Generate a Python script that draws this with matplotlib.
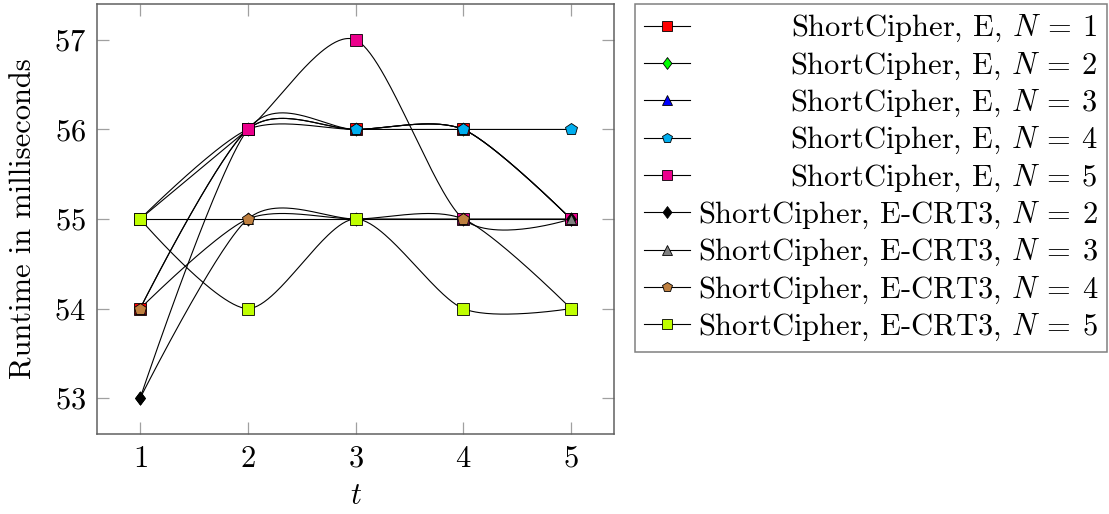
import numpy as np
import matplotlib
matplotlib.use("Agg")
import matplotlib.pyplot as plt
from matplotlib.lines import Line2D

plt.rcParams["font.family"] = "cmr10"
plt.rcParams["mathtext.fontset"] = "cm"
plt.rcParams["axes.formatter.use_mathtext"] = True

# ==============================
# DATA
# ==============================
t = [1, 2, 3, 4, 5]

e_n1 = [54, 56, 56, 56, 55]
e_n2 = [53, 56, 56, 56, 55]
e_n3 = [54, 56, 56, 56, 55]
e_n4 = [55, 56, 56, 56, 56]
e_n5 = [55, 56, 57, 55, 55]

crt_n2 = [53, 55, 55, 55, 55]
crt_n3 = [55, 55, 55, 55, 55]
crt_n4 = [54, 55, 55, 55, 54]
crt_n5 = [55, 54, 55, 54, 54]

labels = [
    r"ShortCipher, E, $N\:=\:1$",
    r"ShortCipher, E, $N\:=\:2$",
    r"ShortCipher, E, $N\:=\:3$",
    r"ShortCipher, E, $N\:=\:4$",
    r"ShortCipher, E, $N\:=\:5$",
    r"ShortCipher, E-CRT3, $N\:=\:2$",
    r"ShortCipher, E-CRT3, $N\:=\:3$",
    r"ShortCipher, E-CRT3, $N\:=\:4$",
    r"ShortCipher, E-CRT3, $N\:=\:5$",
]
series = [e_n1, e_n2, e_n3, e_n4, e_n5, crt_n2, crt_n3, crt_n4, crt_n5]

# pgf-like "diamond*" (a bit wider than matplotlib's thin diamond)
diamond = [(0, 1), (0.75, 0), (0, -1), (-0.75, 0), (0, 1)]

# marker style per series: (marker, face colour, size)
styles = [
    ("s", "#ff0000", 8.2),
    (diamond, "#00ff00", 9.5),
    ("^", "#0000ff", 7.5),
    ("p", "#00aeef", 8.7),
    ("s", "#ec008c", 8.2),
    (diamond, "#000000", 9.5),
    ("^", "#808080", 7.5),
    ("p", "#bf8040", 8.7),
    ("s", "#bfff00", 8.2),
]


def smooth(x, y, k=0.13875, n=60):
    # tikz-style "smooth": cubic bezier per segment, control points from neighbours
    p = np.column_stack([x, y]).astype(float)
    m = len(p)
    d = np.zeros_like(p)
    for i in range(1, m - 1):
        d[i] = k * (p[i + 1] - p[i - 1])
    out = []
    s = np.linspace(0, 1, n)[:, None]
    for i in range(m - 1):
        a, b = p[i], p[i + 1]
        c1, c2 = a + d[i], b - d[i + 1]
        seg = (1 - s) ** 3 * a + 3 * (1 - s) ** 2 * s * c1 + 3 * (1 - s) * s ** 2 * c2 + s ** 3 * b
        out.append(seg if i == 0 else seg[1:])
    out = np.vstack(out)
    return out[:, 0], out[:, 1]


fig = plt.figure(figsize=(11.09, 5.14), dpi=100)
ax = fig.add_axes([0.0875, 0.1556, 0.4662, 0.8366])

for i, vals in enumerate(series):
    xs, ys = smooth(t, vals)
    ax.plot(xs, ys, color="black", lw=0.8, zorder=2 + i * 0.01)

for i, vals in enumerate(series):
    mk, fc, ms = styles[i]
    ax.plot(t, vals, ls="none", marker=mk, markerfacecolor=fc,
            markeredgecolor="black", markeredgewidth=0.6, markersize=ms,
            zorder=3 + i * 0.01)

ax.set_xlim(0.6, 5.4)
ax.set_ylim(52.6, 57.4)
ax.set_xticks(t)
ax.set_yticks([53, 54, 55, 56, 57])
ax.tick_params(direction="in", length=8.5, width=0.9, color="#a0a0a0",
               top=True, right=True, labelsize=22, pad=8)
for sp in ax.spines.values():
    sp.set_color("#606060")
    sp.set_linewidth(1.1)

ax.set_xlabel(r"$t$", fontsize=22, labelpad=7)
ax.set_ylabel("Runtime in milliseconds", fontsize=22, labelpad=12)

# ==============================
# LEGEND
# ==============================
handles = []
for mk, fc, ms in styles:
    handles.append(Line2D([], [], color="black", lw=0.8, marker=mk,
                          markerfacecolor=fc, markeredgecolor="black",
                          markeredgewidth=0.6, markersize=ms - 1))

leg = fig.legend(handles, labels, loc="upper left",
                 bbox_to_anchor=(635 / 1109, 1 - 4 / 514),
                 fontsize=22, frameon=True, fancybox=False,
                 handlelength=1.5, handletextpad=0.25, labelspacing=0.2,
                 borderpad=0.3, borderaxespad=0)
leg.get_frame().set_edgecolor("#606060")
leg.get_frame().set_linewidth(1.1)

# right-align legend entries like pgfplots
fig.canvas.draw()
r = fig.canvas.get_renderer()
widths = [tx.get_window_extent(r).width for tx in leg.get_texts()]
wmax = max(widths)
for tx, w in zip(leg.get_texts(), widths):
    tx.set_x(wmax - w)

fig.savefig("out.png", dpi=100)
